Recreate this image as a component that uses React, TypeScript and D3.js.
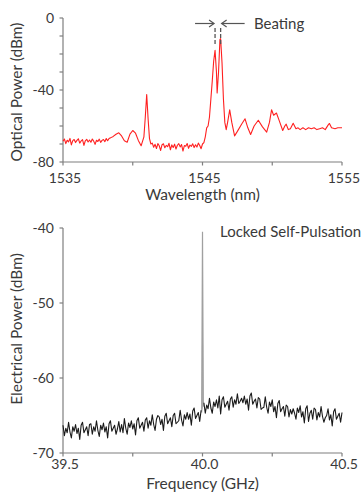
import * as React from 'react';
import * as d3 from 'd3';

// optical spectrum, noise floor left of the side mode (1535.0 - 1538.3 nm, 0.1 nm grid)
const opticalFloorA = [
  -68.5, -67.2, -69.8, -67.9, -68.8, -66.9, -70.5, -68.1, -67.5, -69.2, -68.0, -67.1, -69.5, -68.3, -67.6,
  -70.8, -68.2, -67.4, -68.9, -67.8, -69.0, -67.2, -68.4, -70.2, -67.9, -68.6, -67.3, -69.1, -68.0, -67.5,
  -68.7, -67.0, -68.2, -66.9,
];
// noise floor between side mode and main modes (1541.4 - 1545.1 nm, 0.1 nm grid)
const opticalFloorB = [
  -69.5, -71.8, -70.2, -72.5, -69.8, -71.0, -73.6, -70.4, -69.9, -72.1, -70.8, -71.5, -69.6, -73.2, -70.5,
  -71.9, -70.1, -72.8, -70.7, -69.8, -71.6, -70.3, -73.9, -70.9, -71.2, -69.7, -72.4, -70.6, -71.3, -69.9,
  -72.0, -70.4, -71.7, -69.5, -70.8, -72.6, -70.0, -69.2,
];
// side mode near 1541 nm
const opticalSideMode: [number, number][] = [
  [1538.4, -66.6], [1538.6, -65.8], [1538.8, -64.6], [1539.0, -63.8], [1539.2, -65.5], [1539.4, -68.2],
  [1539.6, -69.0], [1539.8, -64.5], [1540.0, -62.5], [1540.2, -64.0], [1540.4, -68.0], [1540.6, -71.0],
  [1540.8, -66.0], [1540.9, -55.0], [1541.0, -42.5], [1541.1, -56.0], [1541.2, -67.0], [1541.3, -70.0],
];
// two beating modes and the ripple after them
const opticalMainModes: [number, number][] = [
  [1545.2, -66.0], [1545.3, -61.0], [1545.4, -60.0], [1545.5, -55.0], [1545.6, -45.0], [1545.7, -35.0],
  [1545.8, -24.0], [1545.9, -18.0], [1546.0, -30.0], [1546.05, -41.7], [1546.15, -30.0], [1546.25, -12.0],
  [1546.3, -11.5], [1546.4, -25.0], [1546.5, -45.0], [1546.6, -58.0], [1546.7, -62.0], [1546.8, -58.0],
  [1546.95, -51.0], [1547.1, -58.0], [1547.3, -65.5], [1547.5, -63.0], [1547.8, -59.0], [1548.05, -56.0],
  [1548.25, -61.0], [1548.45, -64.7], [1548.7, -60.0], [1549.0, -56.8], [1549.3, -60.5], [1549.6, -63.4],
  [1549.8, -58.0], [1549.95, -51.0], [1550.1, -54.0], [1550.3, -52.8], [1550.5, -57.0], [1550.75, -62.5],
  [1550.9, -60.0], [1551.0, -59.0], [1551.15, -62.0], [1551.3, -61.5], [1551.5, -58.5], [1551.7, -61.5],
  [1551.85, -61.0], [1552.0, -62.0], [1552.2, -61.0], [1552.4, -62.0], [1552.6, -61.0], [1552.8, -61.5],
  [1553.0, -61.0], [1553.2, -62.0], [1553.4, -61.5], [1553.6, -61.0], [1553.8, -62.0], [1554.0, -59.5],
  [1554.1, -58.6], [1554.25, -61.0], [1554.5, -61.5], [1554.7, -61.0], [1555.0, -61.0],
];
const beatingModes = [1545.9, 1546.3];

// electrical spectrum, 39.500 - 40.500 GHz on a 0.005 GHz grid (index 100 = 40.0 GHz)
const electricalTrace = [
  -66.3, -67.7, -66.7, -67.3, -65.9, -67.2, -68.0, -66.5, -67.1, -66.2,
  -67.4, -66.7, -68.2, -66.3, -65.9, -67.3, -66.9, -66.5, -67.7, -66.2,
  -66.1, -67.5, -66.5, -67.1, -65.7, -67.0, -67.8, -66.3, -66.9, -66.0,
  -67.2, -66.5, -68.0, -66.1, -65.7, -67.1, -66.7, -66.3, -67.5, -66.8,
  -65.8, -67.2, -66.2, -67.3, -65.4, -66.7, -67.5, -66.0, -66.6, -65.7,
  -66.8, -66.1, -67.6, -65.7, -65.3, -66.7, -66.3, -65.9, -67.1, -65.6,
  -65.3, -66.7, -65.7, -66.3, -64.9, -66.2, -67.0, -65.5, -65.0, -65.2,
  -66.2, -65.5, -67.0, -65.1, -64.7, -66.1, -65.7, -65.3, -66.5, -65.0,
  -64.7, -66.1, -65.9, -65.7, -64.3, -65.6, -66.4, -64.9, -65.5, -64.6,
  -65.5, -64.8, -66.3, -64.4, -64.0, -65.4, -65.0, -64.6, -65.8, -64.3,
  -64.6,
  -63.3, -64.7, -63.6, -64.1, -62.7, -64.0, -64.7, -63.2, -63.8, -62.9,
  -64.0, -62.4, -64.8, -62.9, -62.5, -63.9, -63.5, -63.1, -64.3, -62.8,
  -62.5, -63.9, -62.9, -63.5, -62.1, -63.4, -63.1, -62.7, -63.3, -62.4,
  -63.5, -62.8, -64.3, -62.4, -62.0, -63.5, -63.1, -62.8, -64.0, -62.6,
  -62.8, -64.2, -64.0, -63.9, -62.5, -63.9, -64.7, -63.2, -63.8, -62.9,
  -64.5, -63.8, -65.3, -63.4, -63.0, -64.5, -64.1, -63.8, -65.1, -63.6,
  -63.8, -65.2, -64.2, -64.8, -64.1, -64.7, -65.5, -64.0, -64.6, -63.7,
  -65.2, -64.5, -66.0, -64.1, -63.7, -65.8, -64.7, -64.3, -65.5, -64.0,
  -64.2, -65.6, -64.6, -65.2, -63.8, -65.1, -65.9, -65.3, -65.0, -64.1,
  -65.6, -64.9, -66.4, -64.5, -64.1, -65.5, -65.1, -64.7, -65.9, -64.6,
];
const electricalStart = 39.5;
const electricalStep = 0.005;
const lockedLine: [number, number][] = [[39.997, -64.6], [40.0, -40.5], [40.003, -63.8]];

const opticalXTicks = [1535, 1540, 1545, 1550, 1555];
const opticalXLabels = [1535, 1545, 1555];
const opticalYTicks = [0, -10, -20, -30, -40, -50, -60, -70, -80];
const opticalYLabels = [0, -40, -80];
const electricalXTicks = [39.5, 39.75, 40.0, 40.25, 40.5];
const electricalXLabels = [39.5, 40.0, 40.5];
const electricalYTicks = [-40, -50, -60, -70];

const FONT = 'Lato, "Open Sans", sans-serif';
const TEXT = '#3a3a3a';
const AXIS = '#7f7f7f';

export default function App() {
  const ref = React.useRef<SVGSVGElement>(null);

  React.useEffect(() => {
    const svg = d3.select(ref.current);
    svg.selectAll('*').remove();

    const drawAxes = (
      g: d3.Selection<SVGGElement, unknown, null, undefined>,
      x: d3.ScaleLinear<number, number>,
      y: d3.ScaleLinear<number, number>,
      xTicks: number[], xLabels: number[], xFmt: (d: number) => string,
      yTicks: number[], yLabels: number[], labelGap: number,
    ) => {
      const [x0, x1] = x.range();
      const [yb, yt] = y.range();
      g.append('line').attr('x1', x0).attr('x2', x0).attr('y1', yt).attr('y2', yb)
        .attr('stroke', AXIS).attr('stroke-width', 1.2);
      g.append('line').attr('x1', x0).attr('x2', x1).attr('y1', yb).attr('y2', yb)
        .attr('stroke', AXIS).attr('stroke-width', 1.2);
      g.selectAll('.yt').data(yTicks).enter().append('line')
        .attr('x1', x0 - 3.5).attr('x2', x0).attr('y1', d => y(d)).attr('y2', d => y(d))
        .attr('stroke', AXIS).attr('stroke-width', 1.2);
      g.selectAll('.xt').data(xTicks).enter().append('line')
        .attr('x1', d => x(d)).attr('x2', d => x(d)).attr('y1', yb).attr('y2', yb + 3.5)
        .attr('stroke', AXIS).attr('stroke-width', 1.2);
      g.selectAll('.yl').data(yLabels).enter().append('text')
        .attr('x', x0 - 9).attr('y', d => y(d) + 5)
        .attr('text-anchor', 'end').attr('font-size', 14).attr('fill', TEXT).attr('font-family', FONT)
        .text(d => String(d));
      g.selectAll('.xl').data(xLabels).enter().append('text')
        .attr('x', d => x(d) + 2).attr('y', yb + labelGap)
        .attr('text-anchor', 'middle').attr('font-size', 14).attr('fill', TEXT).attr('font-family', FONT)
        .text(d => xFmt(d));
    };

    // ---- optical spectrum ----
    const xo = d3.scaleLinear().domain([1535, 1555]).range([63, 342]);
    const yo = d3.scaleLinear().domain([-80, 0]).range([162, 18]);
    const top = svg.append('g');
    drawAxes(top, xo, yo, opticalXTicks, opticalXLabels, d => String(d), opticalYTicks, opticalYLabels, 21);

    const optical: [number, number][] = [
      ...opticalFloorA.map((v, i) => [1535 + i * 0.1, v] as [number, number]),
      ...opticalSideMode,
      ...opticalFloorB.map((v, i) => [1541.4 + i * 0.1, v] as [number, number]),
      ...opticalMainModes,
    ];
    const lineO = d3.line<[number, number]>().x(d => xo(d[0])).y(d => yo(d[1]));
    top.append('path').attr('d', lineO(optical)).attr('fill', 'none')
      .attr('stroke', '#ff2020').attr('stroke-width', 1.1).attr('stroke-linejoin', 'round');

    // beating annotation
    top.selectAll('.dash').data(beatingModes).enter().append('line')
      .attr('x1', d => xo(d)).attr('x2', d => xo(d)).attr('y1', 28).attr('y2', 46)
      .attr('stroke', '#555').attr('stroke-width', 1.3).attr('stroke-dasharray', '4,2');
    const arrowY = 23.5;
    const la = xo(beatingModes[0]);
    const ra = xo(beatingModes[1]);
    top.append('line').attr('x1', la - 20).attr('x2', la - 1).attr('y1', arrowY).attr('y2', arrowY)
      .attr('stroke', '#555').attr('stroke-width', 1.2);
    top.append('path').attr('d', `M${la - 6},${arrowY - 3.5} L${la - 1},${arrowY} L${la - 6},${arrowY + 3.5}`)
      .attr('fill', 'none').attr('stroke', '#555').attr('stroke-width', 1.2);
    top.append('line').attr('x1', ra + 1).attr('x2', ra + 24).attr('y1', arrowY).attr('y2', arrowY)
      .attr('stroke', '#555').attr('stroke-width', 1.2);
    top.append('path').attr('d', `M${ra + 6},${arrowY - 3.5} L${ra + 1},${arrowY} L${ra + 6},${arrowY + 3.5}`)
      .attr('fill', 'none').attr('stroke', '#555').attr('stroke-width', 1.2);
    top.append('text').attr('x', 254).attr('y', 28.5).attr('font-size', 15)
      .attr('fill', TEXT).attr('font-family', FONT).text('Beating');

    top.append('text').attr('x', (63 + 342) / 2).attr('y', 200).attr('text-anchor', 'middle')
      .attr('font-size', 15.5).attr('fill', TEXT).attr('font-family', FONT).text('Wavelength (nm)');
    top.append('text').attr('transform', 'translate(22,92) rotate(-90)').attr('text-anchor', 'middle')
      .attr('font-size', 15.5).attr('fill', TEXT).attr('font-family', FONT).text('Optical Power (dBm)');

    // ---- electrical spectrum ----
    const xe = d3.scaleLinear().domain([39.5, 40.5]).range([63, 342]);
    const ye = d3.scaleLinear().domain([-70, -40]).range([453, 228]);
    const bottom = svg.append('g');
    drawAxes(bottom, xe, ye, electricalXTicks, electricalXLabels, d => d.toFixed(1), electricalYTicks, electricalYTicks, 16);

    const lineE = d3.line<[number, number]>().x(d => xe(d[0])).y(d => ye(d[1]));
    bottom.append('path').attr('d', lineE(lockedLine)).attr('fill', '#b0b0b0')
      .attr('stroke', '#a0a0a0').attr('stroke-width', 1.2);
    const electrical = electricalTrace.map((v, i) => [electricalStart + i * electricalStep, v] as [number, number]);
    bottom.append('path').attr('d', lineE(electrical.slice(0, 100))).attr('fill', 'none')
      .attr('stroke', '#1a1a1a').attr('stroke-width', 1.1).attr('stroke-linejoin', 'round');
    bottom.append('path').attr('d', lineE(electrical.slice(101))).attr('fill', 'none')
      .attr('stroke', '#1a1a1a').attr('stroke-width', 1.1).attr('stroke-linejoin', 'round');

    bottom.append('text').attr('x', 220).attr('y', 237).attr('font-size', 15)
      .attr('fill', TEXT).attr('font-family', FONT).text('Locked Self-Pulsation');
    bottom.append('text').attr('x', (63 + 342) / 2).attr('y', 489).attr('text-anchor', 'middle')
      .attr('font-size', 15.5).attr('fill', TEXT).attr('font-family', FONT).text('Frequency (GHz)');
    bottom.append('text').attr('transform', 'translate(22,329) rotate(-90)').attr('text-anchor', 'middle')
      .attr('font-size', 15.5).attr('fill', TEXT).attr('font-family', FONT).text('Electrical Power (dBm)');
  }, []);

  return (
    <svg ref={ref} width={364} height={492}
      style={{ position: 'absolute', left: 0, top: 0, background: '#fff' }} />
  );
}
